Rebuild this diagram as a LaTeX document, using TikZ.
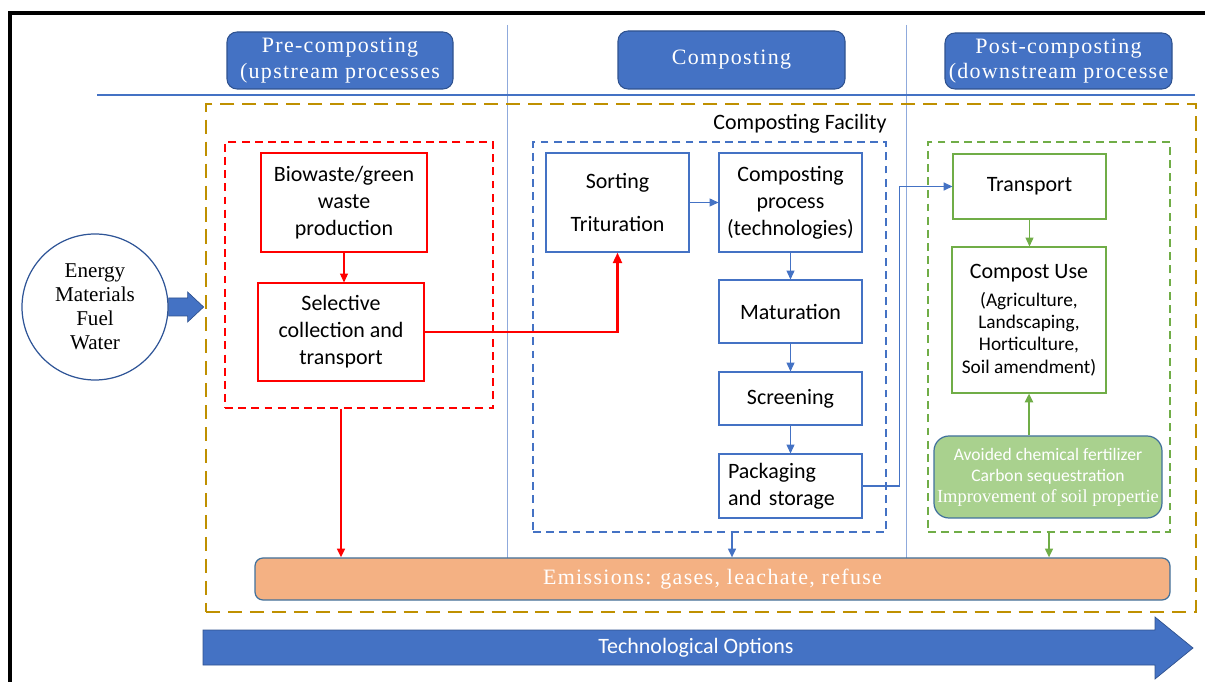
\documentclass[tikz,border=0pt]{standalone}
\usepackage{fontspec}
\setmainfont{Liberation Serif}
\newfontfamily\spacedserif[LetterSpace=6]{Liberation Serif}
\newfontfamily\calibri{Carlito}
\usepackage{tikz}
\usetikzlibrary{calc,arrows.meta}
\definecolor{hdblue}{HTML}{4472C4}
\definecolor{hdedge}{HTML}{2F528F}
\definecolor{circblue}{HTML}{2F5597}
\definecolor{ochre}{HTML}{BF9000}
\definecolor{leafgreen}{HTML}{70AD47}
\definecolor{palegreen}{HTML}{A9D18E}
\definecolor{peach}{HTML}{F4B183}
\definecolor{slateedge}{HTML}{41719C}
\definecolor{divider}{HTML}{8FAADC}
\def\pxl{0.02cm}

\tikzset{
	stage/.style={rounded corners=0.2cm, fill=hdblue, draw=hdedge, line width=0.6pt, text=white, align=center, inner sep=0pt, font=\spacedserif\fontsize{12.5}{14.5}\selectfont},
	zone/.style={line width=1pt, dash pattern=on 4.5pt off 3pt, inner sep=0pt},
	stepbox/.style={draw, line width=0.6pt, align=center, inner sep=0pt, font=\calibri\fontsize{12.5}{15.3}\selectfont},
	flow/.style={line width=0.6pt, -{Triangle[length=5pt,width=4.5pt]}},
}

\begin{document}
\begin{tikzpicture}[x=\pxl, y=-\pxl]
			\useasboundingbox (0,0) rectangle (1205,682);
			%%%%% FRAME %%%%%
			
			\draw[line width=2.3pt] (10.3,682) -- (10.3,13.3) -- (1205,13.3);
			\draw[divider, line width=0.5pt] (507,25) -- (507,558);
			\draw[divider, line width=0.5pt] (906,25) -- (906,558);
			\draw[hdblue, line width=0.6pt] (97,95) -- (1195,95);
			
			%%%%% STAGES %%%%%
			
			\node[stage, minimum width=226*\pxl, minimum height=57*\pxl] (pre) at (340,60.5) {Pre-composting\\(upstream processes};
			\node[stage, minimum width=227*\pxl, minimum height=58*\pxl] (comp) at (731.5,60) {Composting};
			\node[stage, minimum width=227*\pxl, minimum height=56*\pxl] (post) at (1058.5,61) {Post-composting\\(downstream processe};
			
			\node[zone, draw=ochre, line width=1.6pt, dash pattern=on 8pt off 4.5pt, minimum width=990*\pxl, minimum height=508*\pxl] (facility) at (701,358) {};
			\node[font=\calibri\fontsize{12.5}{15}\selectfont] (facilitylabel) at (800,124) {Composting Facility};
			
			\node[zone, draw=red, minimum width=268*\pxl, minimum height=266*\pxl] (prezone) at (359,275) {};
			\node[zone, draw=hdblue, minimum width=353*\pxl, minimum height=390*\pxl] (midzone) at (709.5,337) {};
			\node[zone, draw=leafgreen, minimum width=242*\pxl, minimum height=390*\pxl] (postzone) at (1049,337) {};
			
			%%%%% PRE-COMPOSTING %%%%%
			
			\node[stepbox, draw=red, minimum width=166*\pxl, minimum height=99*\pxl] (bio) at (344,202.5) {Biowaste/green\\waste\\production};
			\node[stepbox, draw=red, minimum width=166*\pxl, minimum height=98*\pxl] (sel) at (341,332) {Selective\\collection and\\transport};
			
			%%%%% COMPOSTING %%%%%
			
			\node[stepbox, draw=hdblue, minimum width=143*\pxl, minimum height=99*\pxl] (sort) at (617.5,202.5) {Sorting\\[9.7pt]Trituration};
			\node[stepbox, draw=hdblue, minimum width=143*\pxl, minimum height=99*\pxl] (cproc) at (790.5,202.5) {Composting\\process\\(technologies)};
			\node[stepbox, draw=hdblue, minimum width=143*\pxl, minimum height=63*\pxl] (matur) at (790.5,311.5) {Maturation};
			\node[stepbox, draw=hdblue, minimum width=143*\pxl, minimum height=53*\pxl] (screen) at (790.5,398.5) {Screening};
			\node[stepbox, draw=hdblue, align=left, text width=125*\pxl, minimum width=143*\pxl, minimum height=64*\pxl] (pack) at (790.5,486) {Packaging\\and storage};
			
			%%%%% POST-COMPOSTING %%%%%
			
			\node[stepbox, draw=leafgreen, minimum width=153*\pxl, minimum height=65*\pxl] (trans) at (1029.5,186.5) {Transport};
			\node[stepbox, draw=leafgreen, minimum width=154*\pxl, minimum height=146*\pxl, font=\calibri\fontsize{11}{12.7}\selectfont] (cuse) at (1029,320) {{\fontsize{12.5}{15}\selectfont Compost Use}\\[3pt](Agriculture,\\Landscaping,\\Horticulture,\\Soil amendment)};
			\node[rounded corners=0.3cm, fill=palegreen, draw=slateedge, line width=0.7pt, text=white, align=center, inner sep=0pt, minimum width=228*\pxl, minimum height=82*\pxl, font=\calibri\fontsize{10}{12}\selectfont] (benefit) at (1048,477) {Avoided chemical fertilizer\\Carbon sequestration\\{\rmfamily\fontsize{10.5}{12}\selectfont Improvement of soil propertie}};
			
			\node[rounded corners=0.16cm, fill=peach, draw=slateedge, line width=0.7pt, text=white, inner sep=0pt, minimum width=915*\pxl, minimum height=42*\pxl, font=\spacedserif\fontsize{12.5}{14}\selectfont] (emis) at (712.5,579) {Emissions: gases, leachate, refuse};
			
			\node[circle, draw=circblue, line width=0.7pt, minimum size=146*\pxl, align=center, inner sep=0pt, font=\fontsize{12}{13.6}\selectfont] (energy) at (95,307) {Energy\\Materials\\Fuel\\Water};
			
			%%%%% CONNECTORS %%%%%
			
			\draw[fill=hdblue, draw=hdedge, line width=0.4pt] (energy.east) ++(0,-9) -- ++(19,0) -- ++(0,-6) -- ++(16,15) -- ++(-16,15) -- ++(0,-6) -- ++(-19,0) -- cycle;
			
			\draw[flow, red] (bio.south) -- (bio.south |- sel.north);
			\draw[red, line width=1.7pt, -{Triangle[length=6pt,width=5pt]}] (sel.east) -| (sort.south);
			\draw[flow, red, line width=1pt] (sel.south |- prezone.south) -- (sel.south |- emis.north);
			
			\draw[flow, hdblue] (sort) -- (cproc);
			\draw[flow, hdblue] (cproc) -- (matur);
			\draw[flow, hdblue] (matur) -- (screen);
			\draw[flow, hdblue] (screen) -- (pack);
			\draw[hdblue, line width=1pt, -{Triangle[length=5pt,width=4.5pt]}] (pack.east) -- ++(37,0) |- (trans.west);
			\coordinate (middrop) at (732,532);
			\draw[flow, hdblue, line width=0.9pt] (middrop) -- (middrop |- emis.north);
			
			\draw[flow, leafgreen] (trans.south) -- (trans.south |- cuse.north);
			\draw[flow, leafgreen, line width=1.2pt] (cuse.south |- benefit.north) -- (cuse.south);
			\draw[flow, leafgreen, line width=0.9pt] (postzone.south) -- (postzone.south |- emis.north);
			
			%%%%% TECHNOLOGICAL OPTIONS %%%%%
			
			\draw[fill=hdblue, draw=hdedge, line width=0.4pt] (203,630) -- (1155,630) -- (1155,617) -- (1193,648) -- (1155,679) -- (1155,665) -- (203,665) -- cycle;
			\node[text=white, font=\calibri\fontsize{12.5}{15}\selectfont] (techopt) at (696,648) {Technological Options};
			
			%%%%% END %%%%%
\end{tikzpicture}
\end{document}
